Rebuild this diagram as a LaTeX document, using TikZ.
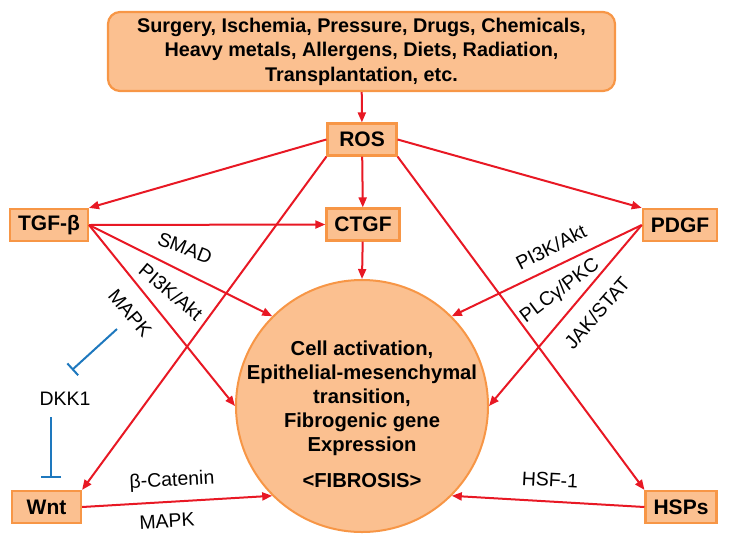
\documentclass[tikz,border=0pt]{standalone}
\usepackage{fontspec}
\setmainfont{Liberation Sans}
\usetikzlibrary{arrows.meta}

\definecolor{peach}{RGB}{251,192,144}
\definecolor{orng}{RGB}{247,150,70}
\definecolor{fred}{RGB}{232,24,36}
\definecolor{iblue}{RGB}{30,120,190}

\begin{document}
\begin{tikzpicture}[x=1pt,y=-1pt,
    box/.style={draw=orng,fill=peach,line width=2.2pt,minimum width=69pt,minimum height=32pt,inner xsep=8pt,font=\fontsize{21}{25}\selectfont\bfseries},
    lbl/.style={font=\fontsize{19.5}{23}\selectfont,inner sep=0pt},
    act/.style={draw=fred,line width=2pt,-{Triangle[length=10pt,width=8pt]}},
    inh/.style={draw=iblue,line width=2pt,-{Bar[width=18pt,line width=2pt]}}]
  \useasboundingbox (0,0) rectangle (730,549);
  % boxes
  \node[box,rounded corners=12pt,minimum width=507pt,minimum height=79pt,align=center,font=\fontsize{19.8}{24.5}\selectfont\bfseries] (top) at (361.5,51.5)
    {Surgery, Ischemia, Pressure, Drugs, Chemicals,\\Heavy metals, Allergens, Diets, Radiation,\\Transplantation, etc.};
  \node[box] (ros) at (362,139.5) {ROS};
  \node[box] (ctgf) at (363,224.5) {CTGF};
  \node[box] (tgf) at (49,225) {TGF-β};
  \node[box] (pdgf) at (680,225) {PDGF};
  \node[box] (wnt) at (46.5,507) {Wnt};
  \node[box] (hsps) at (681,507) {HSPs};
  \node[circle,draw=orng,fill=peach,line width=2pt,minimum size=252pt] (fib) at (362,406) {};
  \node[align=center,inner sep=0pt,font=\fontsize{20.2}{24}\selectfont\bfseries] (fibtxt) at (362,414)
    {Cell activation,\\Epithelial-mesenchymal\\transition,\\Fibrogenic gene\\Expression\\[12pt]<FIBROSIS>};
  % pathway labels
  \node[lbl,rotate=-21] (smad) at (185,248) {SMAD};
  \node[lbl,rotate=-40] (pitgf) at (171,292) {PI3K/Akt};
  \node[lbl,rotate=-50] (mapktgf) at (130,313) {MAPK};
  \node[lbl] (dkk) at (65,399) {DKK1};
  \node[lbl,rotate=3] (bcat) at (172,481) {β-Catenin};
  \node[lbl,rotate=3] (mapkwnt) at (167,521) {MAPK};
  \node[lbl,rotate=-3] (hsf) at (550,480) {HSF-1};
  \node[lbl,rotate=27] (pipdgf) at (551,247) {PI3K/Akt};
  \node[lbl,rotate=37] (plc) at (560,291) {PLCγ/PKC};
  \node[lbl,rotate=49] (jak) at (597,313) {JAK/STAT};
  % red arrows
  \draw[act] (top) -- (ros);
  \draw[act] (ros.west) -- (tgf.north east);
  \draw[act] (ros.east) -- (pdgf.north west);
  \draw[act] (ros) -- (ctgf);
  \draw[act] (ros.south west) -- (wnt.north east);
  \draw[act] (ros.south east) -- (hsps.north west);
  \draw[act] (ctgf) -- (fib.90);
  \draw[act] (tgf.east) -- (ctgf.west);
  \draw[act] (tgf.east) -- (fib.135);
  \draw[act] (tgf.east) -- (fib.180);
  \draw[act] (pdgf.west) -- (fib.45);
  \draw[act] (pdgf.west) -- (fib.0);
  \draw[act] (wnt.east) -- (fib.225);
  \draw[act] (hsps.west) -- (fib.315);
  % blue inhibition
  \coordinate (mapkend) at (117,329);
  \coordinate (dkkin) at (72,370);
  \coordinate (dkkout) at (51,417);
  \coordinate (wntin) at (51,478);
  \draw[inh,-{Bar[width=16pt,line width=2pt]}] (mapkend) -- (dkkin);
  \draw[inh,-{Bar[width=20pt,line width=2pt]}] (dkkout) -- (wntin);
\end{tikzpicture}
\end{document}
